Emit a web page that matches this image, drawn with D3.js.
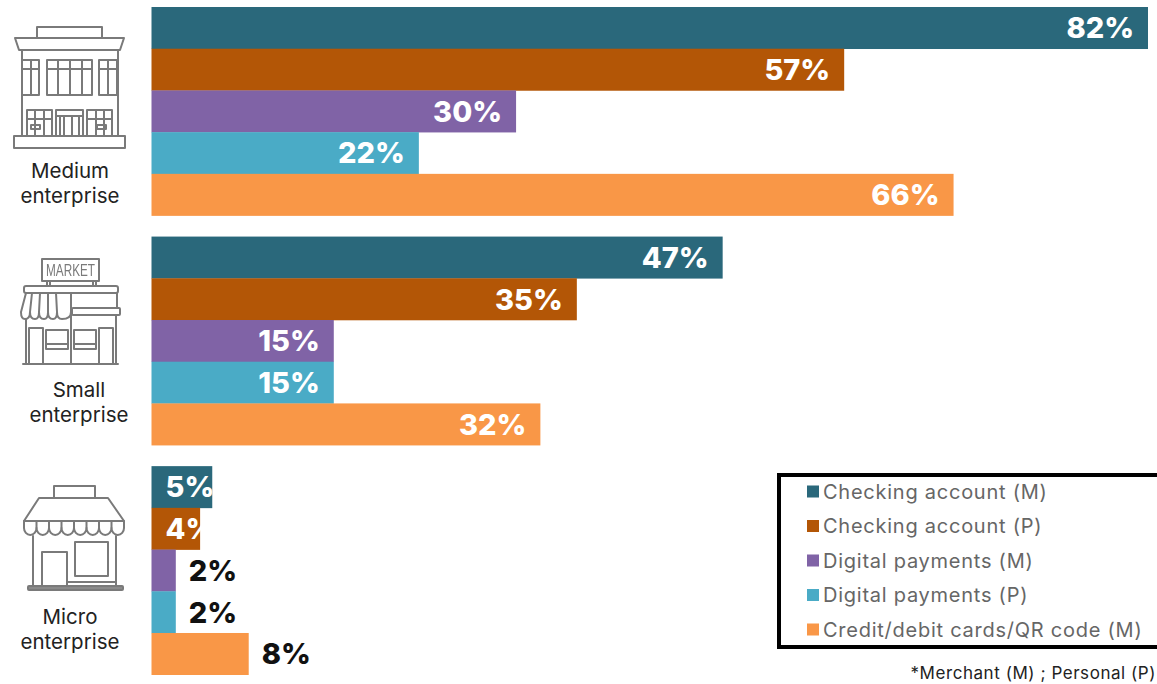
<!DOCTYPE html>
<html><head><meta charset="utf-8">
<script src="https://cdnjs.cloudflare.com/ajax/libs/d3/7.8.5/d3.min.js"></script>
<style>html,body{margin:0;padding:0;background:#fff;overflow:hidden}svg{display:block}</style>
</head><body><svg id="c" width="1157" height="684"></svg>
<script>
const segments = ["Medium enterprise","Small enterprise","Micro enterprise"];
const series = ["Checking account (M)","Checking account (P)","Digital payments (M)","Digital payments (P)","Credit/debit cards/QR code (M)"];
const colors = ["#2a687b","#b35606","#8063a6","#4aabc6","#f99747"];
const medium = [82,57,30,22,66];
const small = [47,35,15,15,32];
const micro = [5,4,2,2,8];
const footnote = "*Merchant (M) ; Personal (P)";
const values = [medium,small,micro];

const svg = d3.select("#c");
svg.append("defs").append("filter").attr("id","soft").append("feGaussianBlur").attr("stdDeviation",0.45);
const LF = "Inter, 'Open Sans', sans-serif";
const x = d3.scaleLinear().domain([0,82]).range([151.5,1148]);
const yGroup = d3.scaleBand().domain(segments).range([7,674.7]).paddingInner(0.0915);
const yBar = d3.scaleBand().domain(series).range([0,yGroup.bandwidth()]);

const g = svg.selectAll("g.seg").data(segments).join("g").attr("class","seg")
  .attr("transform",d=>`translate(0,${yGroup(d)})`);
g.selectAll("rect").data((d,i)=>series.map((s,j)=>({s,j,v:values[i][j]}))).join("rect")
  .attr("x",x(0)).attr("y",d=>yBar(d.s)).attr("width",d=>x(d.v)-x(0))
  .attr("height",yBar.bandwidth()+0.3).attr("fill",d=>colors[d.j]);

const outside = d=>d.v<=2||d.v===8, tight = d=>d.v===4||d.v===5;
g.selectAll("text").data((d,i)=>series.map((s,j)=>({s,j,v:values[i][j]}))).join("text")
  .attr("x",d=>outside(d)?x(d.v)+13:tight(d)?x(0)+14:x(d.v)-14)
  .attr("y",d=>yBar(d.s)+yBar.bandwidth()/2+10.5)
  .attr("text-anchor",d=>(outside(d)||tight(d))?"start":"end")
  .attr("fill",d=>outside(d)?"#111":"#fff")
  .style("font",`800 29px ${LF}`)
  .text(d=>d.v+"%");

// category labels
const catLabels=[["Medium","enterprise",70,178,203],["Small","enterprise",79,397,422],["Micro","enterprise",70,624,649]];
catLabels.forEach(c=>{
  [[c[0],c[3]],[c[1],c[4]]].forEach(t=>svg.append("text").attr("x",c[2]).attr("y",t[1]).attr("text-anchor","middle")
    .attr("fill","#222").style("font",`400 20.5px ${LF}`).text(t[0]));
});

// icons
const ic = svg.append("g").attr("filter","url(#soft)").attr("fill","none").attr("stroke","#7a7a7a").attr("stroke-width",2).attr("stroke-linejoin","round").attr("stroke-linecap","round");
const R=(a,b,w,h,r=0)=>ic.append("rect").attr("x",a).attr("y",b).attr("width",w).attr("height",h).attr("rx",r);
const P=(d,sw)=>{const p=ic.append("path").attr("d",d);if(sw)p.attr("stroke-width",sw);return p;};
// medium building
R(37,27,65,11);
P("M15 38H124L120 50H19Z");
P("M22 50V136M118 50V136");
R(22,60,17,35);P("M22 69H39M31 60V95");
R(47,60,45,35);P("M47 69H92M58 60V95M70 60V95M82 60V95");
R(99,60,18,35);P("M99 69H117M108 60V95");
R(27,110,25,26);P("M27 119H52M35 110V136M44 110V136");
R(56,110,27,26);P("M56 116H83M60 116V136M64 116V136M72 116V136M79 116V136");
R(87,110,25,26);P("M87 119H112M96 110V136M104 110V136");
R(31,125,9,4);R(97,125,9,4);
R(14,136,111,12);
// small shop
const s=240;
R(42,s+19,57,22);
ic.append("text").attr("x",46).attr("y",s+36).attr("textLength",49).attr("lengthAdjust","spacingAndGlyphs").attr("fill","#7a7a7a").attr("stroke","none").style("font",`400 17px 'Liberation Sans',sans-serif`).text("MARKET");
P(`M47 ${s+41}V${s+46}M50 ${s+41}V${s+46}M93 ${s+41}V${s+46}M96 ${s+41}V${s+46}`);
R(24,s+46,94,7,2);
P(`M26 ${s+53}L21 ${s+72}Q21 ${s+79} 25 ${s+79}Q30 ${s+79} 30 ${s+72}L32 ${s+53}M30 ${s+72}Q30 ${s+79} 35 ${s+79}Q39 ${s+79} 39 ${s+72}L40 ${s+53}M39 ${s+72}Q39 ${s+79} 44 ${s+79}Q48 ${s+79} 48 ${s+72}L48 ${s+53}M48 ${s+72}Q48 ${s+79} 53 ${s+79}Q57 ${s+79} 57 ${s+72}L56 ${s+53}M57 ${s+72}Q57 ${s+79} 62 ${s+79}Q71 ${s+79} 71 ${s+72}L71 ${s+53}`);
R(72,s+68,48,7,1);
P(`M71 ${s+53}V${s+124}M117 ${s+53}V${s+68}M26 ${s+79}V${s+124}M116 ${s+75}V${s+124}M23 ${s+124}H118`);
R(29,s+88,14,36);R(99,s+88,14,36);
R(46,s+90,22,19);P(`M46 ${s+104}H68`);
R(74,s+90,22,19);P(`M74 ${s+104}H96`);
// micro shop
const m=460;
R(54,m+26,41,12);
P(`M39 ${m+38}H108L124 ${m+61}H24Z`);
P(`M24 ${m+61}V${m+68}`+d3.range(8).map(i=>{const a=24+i*12.5;return `A6.25 7 0 0 0 ${a+12.5} ${m+68}`}).join("")+`V${m+61}`);
P(d3.range(1,8).map(i=>`M${24+i*12.5} ${m+61}V${m+68}`).join(""));
P(`M33 ${m+76}V${m+126}M116 ${m+76}V${m+126}`);
R(42,m+92,25,34);R(75,m+82,33,34);
P(`M67 ${m+122}H116`);
R(28,m+126,95,4,1).attr("fill","#8a8a8a");

// legend
svg.append("rect").attr("x",779).attr("y",475).attr("width",400).attr("height",172).attr("fill","none").attr("stroke","#000").attr("stroke-width",4);
const ly=d3.scalePoint().domain(series).range([491.5,629.5]);
svg.selectAll("rect.k").data(series).join("rect").attr("class","k").attr("x",807).attr("y",d=>ly(d)-6).attr("width",12).attr("height",12).attr("fill",(d,i)=>colors[i]);
svg.selectAll("text.k").data(series).join("text").attr("class","k").attr("x",823).attr("y",d=>ly(d)+7).attr("fill","#666")
  .style("font",`400 20px ${LF}`).style("letter-spacing","0.75px").text(d=>d);
svg.append("text").attr("x",1156).attr("y",679).attr("text-anchor","end").attr("fill","#222").style("font",`400 17px ${LF}`).style("letter-spacing","0.55px").text(footnote);
</script></body></html>
